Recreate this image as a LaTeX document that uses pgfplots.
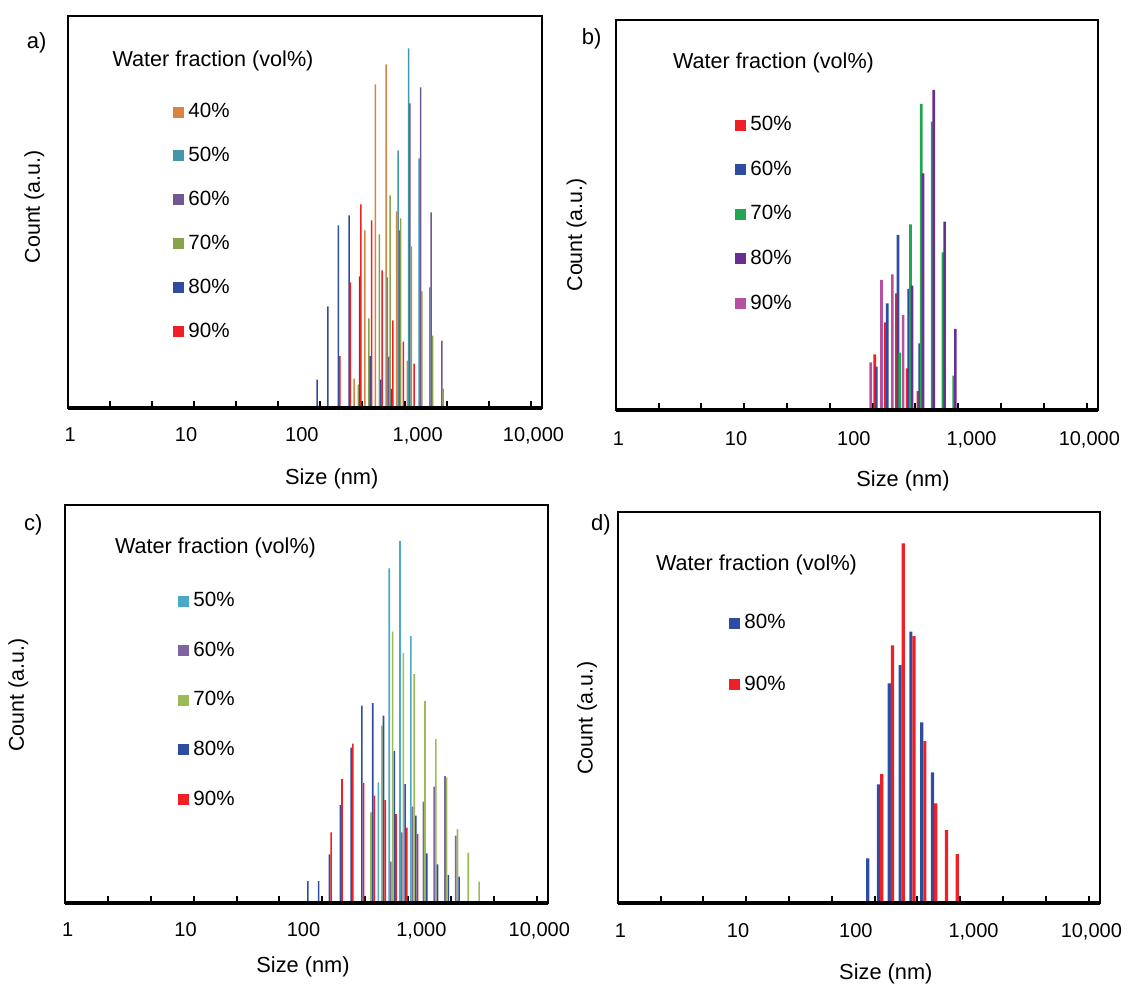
\documentclass[border=0pt]{standalone}
\usepackage{pgfplots}
\pgfplotsset{compat=1.18}
\usepackage{fontspec}
\setmainfont{Liberation Sans}
\definecolor{aOr}{HTML}{D8843F}
\definecolor{aTe}{HTML}{4397AC}
\definecolor{aPu}{HTML}{6F5893}
\definecolor{aGr}{HTML}{88A44B}
\definecolor{kBl}{HTML}{2E4DA0}
\definecolor{kRe}{HTML}{EE2026}
\definecolor{bGr}{HTML}{22A750}
\definecolor{bPu}{HTML}{682E92}
\definecolor{bPi}{HTML}{B650A0}
\definecolor{cTe}{HTML}{4AA9C4}
\definecolor{cPu}{HTML}{7F64A1}
\definecolor{cGr}{HTML}{9BBB59}
\begin{document}
\begin{tikzpicture}
\useasboundingbox (0,0) rectangle (563.5pt,-491.5pt);
% ---------------- panel a
\begin{axis}[scale only axis, anchor=south west,
    xmode=log, xmin=0.95, xmax=11850, ymin=0,
    axis line style={line width=1.1pt, black},
    xtick={0.95,2.194,5.069,11.71,27.05,62.47,144.3,333.4,770.1,1779,4109,9491},
    xticklabels={,,,,,,,,,,,}, xtick pos=bottom, xtick align=inside,
    major tick length=3.5pt, tick style={line width=1pt, black},
    ytick=\empty,
    extra x ticks={1,10,100,1000,10000},
    extra x tick labels={1,10,100,{1,000},{10,000}},
    extra x tick style={major tick length=0pt, tick style={draw=none},
      xticklabel style={anchor=base, font=\fontsize{10}{12}\selectfont, yshift=-16.5pt}},
    xlabel={Size (nm)}, ylabel={Count (a.u.)},
    xlabel style={anchor=base, font=\fontsize{10.9}{13}\selectfont, at={(axis description cs:0.5566,-0.1945)}},
    ylabel style={anchor=center, font=\fontsize{10.7}{13}\selectfont, at={(axis description cs:-0.0704,0.513)}},
    legend style={draw=none, fill=none, anchor=north west, inner xsep=0pt, inner ysep=0pt,
      nodes={inner sep=0pt}, column sep=2pt, font=\fontsize{10.3}{12}\selectfont,
      at={(axis description cs:0.222,0.7775)}, row sep=13.25pt},
    legend cell align=left,
    name=A, at={(33.85pt,-204pt)}, width=237.15pt, height=196.15pt, ymax=392.3]
\addplot[ybar, bar width=0.75pt, bar shift=-1.6875pt, fill=aOr, draw=none, legend image code/.code={\fill[aOr] (0pt,-2.75pt) rectangle (5.5pt,2.75pt);}] coordinates {(302.8,29.5) (374.0,177.5) (461.8,323.5) (570.3,343.5) (704.3,196.5) (869.7,47.5)};
\addlegendentry{40\%}
\addplot[ybar, bar width=0.75pt, bar shift=-1.0125pt, fill=aTe, draw=none, legend image code/.code={\fill[aTe] (0pt,-2.75pt) rectangle (5.5pt,2.75pt);}] coordinates {(570.3,130.5) (704.3,257.5) (869.7,359.5) (1074,249.5) (1326,120.5)};
\addlegendentry{50\%}
\addplot[ybar, bar width=0.75pt, bar shift=-0.3375pt, fill=aPu, draw=none, legend image code/.code={\fill[aPu] (0pt,-2.75pt) rectangle (5.5pt,2.75pt);}] coordinates {(570.3,51.5) (704.3,177.5) (869.7,304.5) (1074,320.5) (1326,195.5) (1638,67.5)};
\addlegendentry{60\%}
\addplot[ybar, bar width=0.75pt, bar shift=0.3375pt, fill=aGr, draw=none, legend image code/.code={\fill[aGr] (0pt,-2.75pt) rectangle (5.5pt,2.75pt);}] coordinates {(302.8,23.5) (374.0,89.5) (461.8,173.5) (570.3,212.5) (704.3,189.5) (869.7,161.5) (1074,116.5) (1326,72.5) (1638,19.5)};
\addlegendentry{70\%}
\addplot[ybar, bar width=0.75pt, bar shift=1.0125pt, fill=kBl, draw=none, legend image code/.code={\fill[kBl] (0pt,-2.75pt) rectangle (5.5pt,2.75pt);}] coordinates {(130.2,28.5) (160.8,101.5) (198.6,182.5) (245.2,192.5) (302.8,131.5) (374.0,51.8) (461.8,28.5) (570.3,19.2)};
\addlegendentry{80\%}
\addplot[ybar, bar width=0.75pt, bar shift=1.6875pt, fill=kRe, draw=none, legend image code/.code={\fill[kRe] (0pt,-2.75pt) rectangle (5.5pt,2.75pt);}] coordinates {(198.6,51.8) (245.2,125.5) (302.8,203.5) (374.0,187.5) (461.8,137.5) (570.3,87.5) (704.3,66.5) (869.7,44.5)};
\addlegendentry{90\%}
\end{axis}
\draw[line width=1.85pt] (A.south west) -- (A.south east);
% ---------------- panel b
\begin{axis}[scale only axis, anchor=south west,
    xmode=log, xmin=0.95, xmax=11850, ymin=0,
    axis line style={line width=1.1pt, black},
    xtick={0.95,2.194,5.069,11.71,27.05,62.47,144.3,333.4,770.1,1779,4109,9491},
    xticklabels={,,,,,,,,,,,}, xtick pos=bottom, xtick align=inside,
    major tick length=3.5pt, tick style={line width=1pt, black},
    ytick=\empty,
    extra x ticks={1,10,100,1000,10000},
    extra x tick labels={1,10,100,{1,000},{10,000}},
    extra x tick style={major tick length=0pt, tick style={draw=none},
      xticklabel style={anchor=base, font=\fontsize{10}{12}\selectfont, yshift=-17.5pt}},
    xlabel={Size (nm)}, ylabel={Count (a.u.)},
    xlabel style={anchor=base, font=\fontsize{10.9}{13}\selectfont, at={(axis description cs:0.5957,-0.1967)}},
    ylabel style={anchor=center, font=\fontsize{10.7}{13}\selectfont, at={(axis description cs:-0.0809,0.449)}},
    legend style={draw=none, fill=none, anchor=north west, inner xsep=0pt, inner ysep=0pt,
      nodes={inner sep=0pt}, column sep=2pt, font=\fontsize{10.3}{12}\selectfont,
      at={(axis description cs:0.2474,0.7539)}, row sep=13.6pt},
    legend cell align=left,
    name=B, at={(307.85pt,-205pt)}, width=241.15pt, height=195pt, ymax=390]
\addplot[ybar, bar width=1.3pt, bar shift=-1.7pt, fill=kRe, draw=none, legend image code/.code={\fill[kRe] (0pt,-2.75pt) rectangle (5.5pt,2.75pt);}] coordinates {(160.8,55.7) (198.6,87.7) (245.2,116.7) (302.8,41.7) (374.0,19)};
\addlegendentry{50\%}
\addplot[ybar, bar width=1.3pt, bar shift=-0.85pt, fill=kBl, draw=none, legend image code/.code={\fill[kBl] (0pt,-2.75pt) rectangle (5.5pt,2.75pt);}] coordinates {(160.8,43.3) (198.6,106.7) (245.2,175) (302.8,121) (374.0,66.7)};
\addlegendentry{60\%}
\addplot[ybar, bar width=1.3pt, bar shift=0pt, fill=bGr, draw=none, legend image code/.code={\fill[bGr] (0pt,-2.75pt) rectangle (5.5pt,2.75pt);}] coordinates {(245.2,57.3) (302.8,185.7) (374.0,306) (461.8,288.3) (570.3,157.7) (704.3,34.3)};
\addlegendentry{70\%}
\addplot[ybar, bar width=1.3pt, bar shift=0.85pt, fill=bPu, draw=none, legend image code/.code={\fill[bPu] (0pt,-2.75pt) rectangle (5.5pt,2.75pt);}] coordinates {(302.8,124.3) (374.0,236.7) (461.8,320) (570.3,188.3) (704.3,81)};
\addlegendentry{80\%}
\addplot[ybar, bar width=1.3pt, bar shift=1.7pt, fill=bPi, draw=none, legend image code/.code={\fill[bPi] (0pt,-2.75pt) rectangle (5.5pt,2.75pt);}] coordinates {(130.2,47.7) (160.8,130) (198.6,135.7) (245.2,95)};
\addlegendentry{90\%}
\end{axis}
\draw[line width=1.85pt] (B.south west) -- (B.south east);
% ---------------- panel c
\begin{axis}[scale only axis, anchor=south west,
    xmode=log, xmin=0.95, xmax=11850, ymin=0,
    axis line style={line width=1.1pt, black},
    xtick={0.95,2.194,5.069,11.71,27.05,62.47,144.3,333.4,770.1,1779,4109,9491},
    xticklabels={,,,,,,,,,,,}, xtick pos=bottom, xtick align=inside,
    major tick length=3.5pt, tick style={line width=1pt, black},
    ytick=\empty,
    extra x ticks={1,10,100,1000,10000},
    extra x tick labels={1,10,100,{1,000},{10,000}},
    extra x tick style={major tick length=0pt, tick style={draw=none},
      xticklabel style={anchor=base, font=\fontsize{10}{12}\selectfont, yshift=-16.7pt}},
    xlabel={Size (nm)}, ylabel={Count (a.u.)},
    xlabel style={anchor=base, font=\fontsize{10.9}{13}\selectfont, at={(axis description cs:0.4928,-0.1742)}},
    ylabel style={anchor=center, font=\fontsize{10.7}{13}\selectfont, at={(axis description cs:-0.0967,0.523)}},
    legend style={draw=none, fill=none, anchor=north west, inner xsep=0pt, inner ysep=0pt,
      nodes={inner sep=0pt}, column sep=2pt, font=\fontsize{10.3}{12}\selectfont,
      at={(axis description cs:0.234,0.7816)}, row sep=16.1pt},
    legend cell align=left,
    name=C, at={(32.5pt,-451.65pt)}, width=241.5pt, height=199.15pt, ymax=398.3]
\addplot[ybar, bar width=0.8pt, bar shift=-1.7pt, fill=cTe, draw=none, legend image code/.code={\fill[cTe] (0pt,-2.75pt) rectangle (5.5pt,2.75pt);}] coordinates {(461.8,121) (570.3,335) (704.3,362.3) (869.7,267.3)};
\addlegendentry{50\%}
\addplot[ybar, bar width=0.8pt, bar shift=-0.85pt, fill=cPu, draw=none, legend image code/.code={\fill[cPu] (0pt,-2.75pt) rectangle (5.5pt,2.75pt);}] coordinates {(570.3,41.6) (704.3,71) (869.7,96.6) (1074,101.6) (1326,116.6) (1638,127.3) (2023,67.6)};
\addlegendentry{60\%}
\addplot[ybar, bar width=0.8pt, bar shift=0pt, fill=cGr, draw=none, legend image code/.code={\fill[cGr] (0pt,-2.75pt) rectangle (5.5pt,2.75pt);}] coordinates {(374.0,91) (461.8,177.6) (570.3,271.6) (704.3,250.3) (869.7,229.3) (1074,202.3) (1326,164.3) (1638,126) (2023,74.3) (2498,50.6) (3084,21.6)};
\addlegendentry{70\%}
\addplot[ybar, bar width=0.8pt, bar shift=0.85pt, fill=kBl, draw=none, legend image code/.code={\fill[kBl] (0pt,-2.75pt) rectangle (5.5pt,2.75pt);}] coordinates {(105.4,22.3) (130.2,22.3) (160.8,49) (198.6,98.3) (245.2,155.6) (302.8,197.6) (374.0,200.3) (461.8,187.6) (570.3,152.3) (704.3,119.3) (869.7,87.6) (1074,50) (1326,39) (1638,28.3) (2023,26.6)};
\addlegendentry{80\%}
\addplot[ybar, bar width=0.8pt, bar shift=1.7pt, fill=kRe, draw=none, legend image code/.code={\fill[kRe] (0pt,-2.75pt) rectangle (5.5pt,2.75pt);}] coordinates {(160.8,71) (198.6,124.3) (245.2,159.6) (302.8,120.3) (374.0,107.6) (461.8,103.3) (570.3,89.3) (704.3,75.6) (869.7,69.3)};
\addlegendentry{90\%}
\end{axis}
\draw[line width=1.85pt] (C.south west) -- (C.south east);
% ---------------- panel d
\begin{axis}[scale only axis, anchor=south west,
    xmode=log, xmin=0.95, xmax=11850, ymin=0,
    axis line style={line width=1.1pt, black},
    xtick={0.95,2.194,5.069,11.71,27.05,62.47,144.3,333.4,770.1,1779,4109,9491},
    xticklabels={,,,,,,,,,,,}, xtick pos=bottom, xtick align=inside,
    major tick length=3.5pt, tick style={line width=1pt, black},
    ytick=\empty,
    extra x ticks={1,10,100,1000,10000},
    extra x tick labels={1,10,100,{1,000},{10,000}},
    extra x tick style={major tick length=0pt, tick style={draw=none},
      xticklabel style={anchor=base, font=\fontsize{10}{12}\selectfont, yshift=-17.3pt}},
    xlabel={Size (nm)}, ylabel={Count (a.u.)},
    xlabel style={anchor=base, font=\fontsize{10.9}{13}\selectfont, at={(axis description cs:0.556,-0.1959)}},
    ylabel style={anchor=center, font=\fontsize{10.7}{13}\selectfont, at={(axis description cs:-0.0637,0.472)}},
    legend style={draw=none, fill=none, anchor=north west, inner xsep=0pt, inner ysep=0pt,
      nodes={inner sep=0pt}, column sep=2pt, font=\fontsize{10.3}{12}\selectfont,
      at={(axis description cs:0.2308,0.7379)}, row sep=21.95pt},
    legend cell align=left,
    name=D, at={(308.85pt,-451.35pt)}, width=241.15pt, height=195.5pt, ymax=391]
\addplot[ybar, bar width=1.6pt, bar shift=-0.8pt, fill=kBl, draw=none, legend image code/.code={\fill[kBl] (0pt,-2.75pt) rectangle (5.5pt,2.75pt);}] coordinates {(130.2,44.4) (160.8,118.4) (198.6,219.4) (245.2,237.7) (302.8,271) (374.0,180.4) (461.8,130.4)};
\addlegendentry{80\%}
\addplot[ybar, bar width=1.6pt, bar shift=0.8pt, fill=kRe, draw=none, legend image code/.code={\fill[kRe] (0pt,-2.75pt) rectangle (5.5pt,2.75pt);}] coordinates {(160.8,128.7) (198.6,257.4) (245.2,359.4) (302.8,266.7) (374.0,161.7) (461.8,99.4) (570.3,72.7) (704.3,48.7)};
\addlegendentry{90\%}
\end{axis}
\draw[line width=1.85pt] (D.south west) -- (D.south east);
% ---------------- titles and panel letters
\begin{scope}[every node/.style={font=\fontsize{10.8}{13}\selectfont, inner sep=0pt}]
\node at (106.5pt,-30.4pt) {Water fraction (vol\%)};
\node at (386.75pt,-31.25pt) {Water fraction (vol\%)};
\node at (107.75pt,-273.75pt) {Water fraction (vol\%)};
\node at (378.25pt,-282.25pt) {Water fraction (vol\%)};
\end{scope}
\begin{scope}[every node/.style={font=\fontsize{11}{13}\selectfont, inner sep=0pt}]
\node at (18.35pt,-21.2pt) {a)};
\node at (295.8pt,-19.2pt) {b)};
\node at (16.7pt,-262.5pt) {c)};
\node at (300.4pt,-262.5pt) {d)};
\end{scope}
\end{tikzpicture}
\end{document}
